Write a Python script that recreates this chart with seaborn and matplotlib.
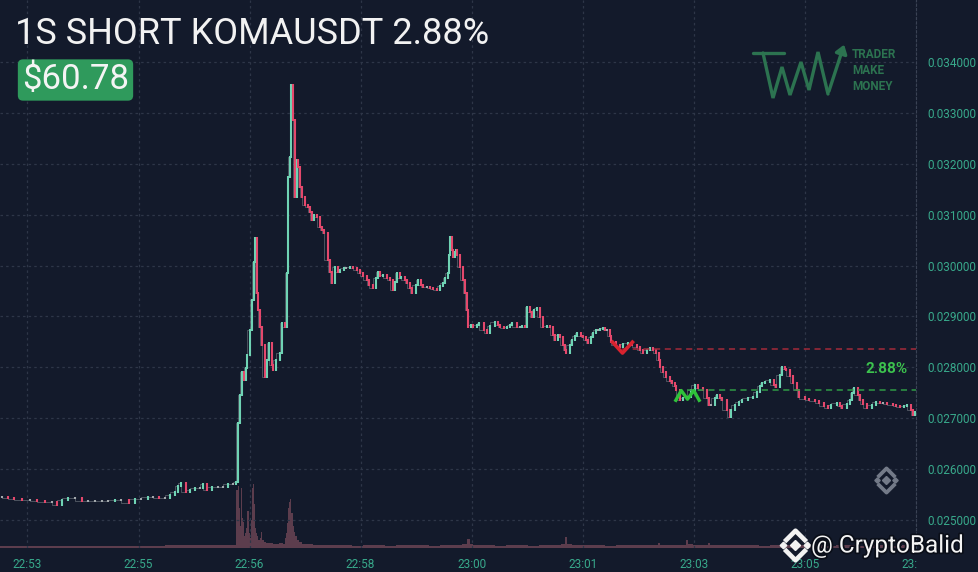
import datetime as dt
import numpy as np
import matplotlib
matplotlib.use("Agg")
import matplotlib.pyplot as plt
from matplotlib.path import Path
from matplotlib.lines import Line2D
from matplotlib.patches import Rectangle, FancyArrowPatch
import matplotlib.patheffects as pe
import seaborn as sns

sns.set_style("dark")
plt.rcParams["font.family"] = ["Roboto", "DejaVu Sans"]

bg = "#131a2b"
gridColor = "#2e3648"
upColor = "#6fd3b4"
downColor = "#e4486c"
flatColor = "#a3a9ad"
axisText = "#38a98b"
volColor = "#6a4454"

# 1s candles, sampled: time index (s) / close price
times = [2, 7, 13, 20, 27, 34, 41, 47, 52, 56,
         62, 68, 75, 80, 86, 93, 98, 105, 110, 117,
         123, 128, 135, 139, 145, 150, 155, 159, 162, 165,
         169, 173, 177, 182, 185, 188, 193, 198, 203, 207,
         212, 215, 216, 218, 220, 222, 224, 225, 227, 229,
         231, 232, 234, 235, 236, 238, 241, 243, 245, 247,
         248, 251, 255, 256, 259, 261, 262, 264, 265, 266,
         268, 270, 271, 273, 275, 277, 280, 282, 284, 286,
         288, 291, 293, 295, 298, 300, 302, 305, 307, 309,
         313, 315, 318, 321, 325, 327, 330, 334, 336, 339,
         342, 344, 346, 348, 352, 355, 357, 359, 361, 364,
         365, 368, 370, 373, 375, 378, 380, 383, 385, 388,
         391, 394, 397, 400, 403, 405, 407, 408, 409, 411,
         412, 414, 415, 416, 418, 421, 423, 425, 426, 428,
         430, 434, 436, 440, 443, 446, 450, 453, 455, 458,
         461, 464, 466, 470, 473, 475, 477, 479, 482, 484,
         486, 488, 491, 494, 497, 500, 503, 505, 507, 509,
         512, 514, 515, 518, 520, 523, 525, 528, 530, 533,
         535, 537, 539, 542, 544, 546, 548, 550, 552, 555,
         556, 560, 564, 567, 571, 575, 579, 582, 585, 588,
         591, 594, 597, 599, 600, 603, 606, 609, 611, 614,
         615, 618, 621, 625, 628, 632, 635, 639, 643, 645,
         647, 650, 652, 655, 657, 661, 664, 665, 668, 672,
         675, 680, 685, 688, 691, 693, 696, 700, 704, 706,
         709, 711, 714, 715, 718, 721, 725, 727, 732, 736,
         741, 745, 749, 753, 756, 761, 764, 766, 770, 773,
         775, 777, 780, 782, 785, 788, 793, 797, 800, 803,
         807, 812, 815, 818, 822, 825, 828, 830, 832]

closes = [0.025452, 0.025433, 0.025413, 0.025393, 0.025393, 0.025374, 0.025354, 0.025354, 0.025295, 0.025393,
          0.025433, 0.025433, 0.025374, 0.025374, 0.025374, 0.025374, 0.025374, 0.025393, 0.025393, 0.025334,
          0.025413, 0.025413, 0.025452, 0.025452, 0.025433, 0.025433, 0.025492, 0.025550, 0.025668, 0.025727,
          0.025550, 0.025590, 0.025629, 0.025629, 0.025708, 0.025590, 0.025649, 0.025649, 0.025649, 0.025708,
          0.025708, 0.025747, 0.026906, 0.027457, 0.027908, 0.027751, 0.027987, 0.028243, 0.028734, 0.029323,
          0.030070, 0.030542, 0.029461, 0.029127, 0.028793, 0.028439, 0.027810, 0.028144, 0.028478, 0.028046,
          0.027948, 0.028144, 0.028282, 0.028871, 0.028793, 0.029854, 0.031740, 0.032133, 0.033548, 0.032860,
          0.031347, 0.032074, 0.031937, 0.031544, 0.031347, 0.031190, 0.031151, 0.031052, 0.030895, 0.030994,
          0.030954, 0.030758, 0.030699, 0.030640, 0.030109, 0.029873, 0.029657, 0.029972, 0.029873, 0.029913,
          0.029952, 0.029952, 0.029972, 0.029952, 0.029913, 0.029854, 0.029795, 0.029716, 0.029618, 0.029559,
          0.029756, 0.029873, 0.029795, 0.029815, 0.029756, 0.029716, 0.029520, 0.029677, 0.029854, 0.029756,
          0.029775, 0.029716, 0.029657, 0.029559, 0.029461, 0.029618, 0.029716, 0.029618, 0.029579, 0.029579,
          0.029559, 0.029539, 0.029520, 0.029598, 0.029657, 0.029756, 0.029854, 0.030208, 0.030561, 0.030306,
          0.030168, 0.030266, 0.030306, 0.030208, 0.029972, 0.029716, 0.029461, 0.029127, 0.028793, 0.028832,
          0.028793, 0.028832, 0.028871, 0.028734, 0.028675, 0.028812, 0.028891, 0.028832, 0.028793, 0.028773,
          0.028793, 0.028832, 0.028871, 0.028793, 0.028793, 0.028812, 0.028793, 0.029186, 0.029087, 0.028989,
          0.029127, 0.029166, 0.028989, 0.028793, 0.028812, 0.028793, 0.028636, 0.028537, 0.028636, 0.028596,
          0.028439, 0.028341, 0.028282, 0.028439, 0.028537, 0.028616, 0.028675, 0.028616, 0.028596, 0.028537,
          0.028478, 0.028596, 0.028675, 0.028734, 0.028734, 0.028753, 0.028773, 0.028734, 0.028734, 0.028616,
          0.028498, 0.028439, 0.028400, 0.028459, 0.028478, 0.028439, 0.028400, 0.028341, 0.028282, 0.028341,
          0.028380, 0.028341, 0.028282, 0.028144, 0.028007, 0.027908, 0.027810, 0.027732, 0.027692, 0.027633,
          0.027555, 0.027358, 0.027398, 0.027417, 0.027555, 0.027653, 0.027594, 0.027555, 0.027398, 0.027260,
          0.027260, 0.027398, 0.027457, 0.027398, 0.027358, 0.027162, 0.027024, 0.027162, 0.027260, 0.027319,
          0.027358, 0.027398, 0.027417, 0.027515, 0.027633, 0.027692, 0.027712, 0.027751, 0.027653, 0.027614,
          0.027850, 0.028007, 0.027967, 0.027948, 0.027830, 0.027692, 0.027555, 0.027417, 0.027378, 0.027358,
          0.027339, 0.027299, 0.027240, 0.027201, 0.027260, 0.027299, 0.027240, 0.027201, 0.027280, 0.027358,
          0.027496, 0.027594, 0.027457, 0.027358, 0.027280, 0.027201, 0.027260, 0.027319, 0.027299, 0.027299,
          0.027280, 0.027260, 0.027240, 0.027221, 0.027240, 0.027260, 0.027162, 0.027064, 0.027122]

# volume (thousands)
volTimes = [0, 10, 20, 30, 40, 50, 60, 70, 80, 90, 100, 110, 120, 130, 140, 150, 160, 170, 180, 190, 200, 208,
            215, 216, 217, 218, 219, 220, 221, 222, 223, 224, 225, 226, 227, 228, 229, 230, 231, 232, 233, 234,
            235, 236, 237, 238, 240, 242, 245, 248, 251, 254, 257, 259, 260, 261, 262, 263, 264, 265, 266, 267,
            268, 270, 272, 275, 280, 285, 290, 300, 310, 320, 330, 340, 350, 360, 370, 380, 390, 400, 410, 420,
            425, 427, 430, 440, 450, 460, 470, 480, 490, 500, 510, 514, 516, 520, 530, 540, 550, 560, 570, 580,
            590, 598, 600, 610, 620, 624, 626, 630, 640, 644, 646, 650, 660, 670, 680, 690, 700, 710, 720, 730,
            740, 750, 760, 770, 780, 790, 800, 810, 820, 833]
volumes = [2, 2, 2, 2, 2, 2, 2, 2, 2, 2, 2, 2, 2, 2, 2, 3, 3, 3, 3, 3, 3, 3,
           58, 62, 40, 22, 60, 30, 26, 12, 15, 20, 37, 15, 10, 28, 60, 64, 44, 20, 15, 12,
           8, 10, 16, 8, 6, 5, 5, 4, 4, 5, 4, 10, 15, 25, 40, 46, 49, 35, 22, 16,
           12, 8, 6, 4, 4, 3, 3, 3, 3, 2, 3, 3, 2, 3, 3, 3, 2, 3, 3, 4,
           9, 4, 3, 3, 2, 3, 3, 2, 3, 3, 4, 11, 4, 3, 3, 3, 2, 3, 3, 3,
           3, 5, 3, 3, 3, 8, 4, 3, 3, 5, 3, 3, 3, 3, 3, 2, 3, 3, 3, 3,
           3, 2, 3, 3, 2, 3, 3, 2, 3, 0]

# trade
entryTime = 566
entryPrice = 0.028360
exitTime = 625
exitPrice = 0.027555
entryMark = 0.028405
exitMark = 0.027460
pnlPct = "2.88%"
title = "1S SHORT KOMAUSDT 2.88%"
pnl = "$60.78"

yTicks = np.round(np.arange(0.025, 0.03401, 0.001), 3)
firstTick = dt.datetime(2024, 5, 1, 22, 53, 20)
tickLabels = [(firstTick + dt.timedelta(seconds=100 * k)).strftime("%H:%M") for k in range(9)]
xTicks = 25 + 100.97 * np.arange(9)

W, H = 979, 572
fig = plt.figure(figsize=(W / 100, H / 100), dpi=100, facecolor=bg)
ax = fig.add_axes([0, 24 / H, 916 / W, 548 / H])
ax.set_facecolor(bg)

# volume
ax2 = ax.twinx()
widths = np.diff(volTimes)
ax2.bar(volTimes[:-1], volumes[:-1], width=widths, align="edge", color=volColor, alpha=0.85, lw=0)
ax2.set_ylim(0, max(volumes) * 8.6)
ax2.set_yticks([])
for s in ax2.spines.values():
    s.set_visible(False)

# candles
t = np.array(times, dtype=float)
c = np.array(closes)
o = np.concatenate([[c[0]], c[:-1]])
cols = np.where(c > o, upColor, np.where(c < o, downColor, flatColor))
sns.lineplot(x=t, y=c, ax=ax, drawstyle="steps-pre", color=flatColor, lw=0.7, alpha=0.4, zorder=3)
lo = np.minimum(o, c) - 0.000012
hi = np.maximum(o, c) + 0.000012
ax.vlines(t, lo, hi, colors=cols, lw=1.5, zorder=4)

# trade lines and markers
xMax = 833
ax.hlines(entryPrice, entryTime, xMax, colors="#a32a3a", linestyles=(0, (4, 3)), lw=1.1, zorder=5)
ax.hlines(exitPrice, exitTime, xMax, colors="#2f9a46", linestyles=(0, (4, 3)), lw=1.1, zorder=5)
vMark = Path([(-1, 0.6), (0, -0.5), (1, 0.6)], [Path.MOVETO, Path.LINETO, Path.LINETO])
mMark = Path([(-1, -0.5), (-0.5, 0.4), (0, -0.3), (0.5, 0.4), (1, -0.5)],
             [Path.MOVETO] + [Path.LINETO] * 4)
ax.plot([entryTime], [entryMark], marker=vMark, ms=16, mfc="none", mec="#d8232f", mew=2.6, zorder=6)
ax.plot([exitTime], [exitMark], marker=mMark, ms=18, mfc="none", mec="#2fc23a", mew=2.4, zorder=6)
ax.annotate(pnlPct, xy=(xMax, exitPrice), xytext=(-6, 15), textcoords="offset points",
            ha="right", va="center", color="#3cc24e", fontsize=11, fontweight="bold", zorder=7)

ax.set_xlim(0, xMax)
ax.set_ylim(0.024450, 0.035218)
ax.set_yticks(yTicks)
ax.set_yticklabels([f"{v:.6f}" for v in yTicks])
ax.yaxis.tick_right()
ax.set_xticks(xTicks)
ax.set_xticklabels(tickLabels)
ax.tick_params(axis="both", colors=axisText, labelsize=8.5, length=0)
ax.tick_params(axis="y", pad=8)
ax.tick_params(axis="x", pad=7)
ax.grid(True, color=gridColor, linestyle=(0, (2, 2.5)), lw=0.9)
ax.set_axisbelow(True)
for name, s in ax.spines.items():
    s.set_visible(name == "right")
ax.spines["right"].set_color("#3a4254")
ax.spines["right"].set_linestyle((0, (2, 2)))
ax2.set_zorder(0)
ax.set_zorder(1)
ax.patch.set_visible(False)


def fx(px):
    return px / W


def fy(py):
    return 1 - py / H


# price scale panel hides the cut time label
fig.add_artist(Rectangle((fx(917), 0), fx(W - 917), fy(549), transform=fig.transFigure,
                         facecolor=bg, edgecolor="none", zorder=5))

# title and pnl
fig.text(fx(15), fy(34), title, color="#f2f2f2", fontsize=26, va="center", ha="left", zorder=8)
fig.text(fx(22), fy(80), pnl, color="#f4f4f4", fontsize=25, va="center", ha="left", zorder=8,
         bbox=dict(boxstyle="round,pad=0.12,rounding_size=0.15", facecolor="#2f9a5c", edgecolor="none"))

# watermark logo
logoColor = "#2c7350"
lx = [763, 773, 782, 790, 801, 809, 818, 828]
ly = [53, 98, 67, 95, 62, 90, 52, 94]
fig.add_artist(Line2D([fx(753), fx(784)], [fy(53), fy(53)], transform=fig.transFigure,
                      color=logoColor, lw=2.4, zorder=6))
fig.add_artist(Line2D([fx(v) for v in lx], [fy(v) for v in ly], transform=fig.transFigure,
                      color=logoColor, lw=2.4, zorder=6, solid_joinstyle="miter"))
fig.add_artist(FancyArrowPatch((fx(828), fy(94)), (fx(845), fy(42)), transform=fig.transFigure,
                               arrowstyle="-|>,head_length=5,head_width=3.5",
                               color=logoColor, lw=2.4, zorder=6))
for i, word in enumerate(["TRADER", "MAKE", "MONEY"]):
    fig.text(fx(852), fy(54 + 16 * i), word, color=logoColor, fontsize=8.5, fontweight="bold",
             va="center", ha="left", zorder=6)

# exchange logo (chevrons + diamonds)
upChev = Path([(-1, -0.2), (0, 0.8), (1, -0.2)], [Path.MOVETO, Path.LINETO, Path.LINETO])
downChev = Path([(-1, 0.2), (0, -0.8), (1, 0.2)], [Path.MOVETO, Path.LINETO, Path.LINETO])


def exchangeLogo(px, py, size, color, zorder, effects=None):
    s = size
    kw = dict(transform=fig.transFigure, zorder=zorder)
    if effects:
        kw["path_effects"] = effects
    fig.add_artist(Line2D([fx(px)], [fy(py - s * 0.3)], marker=upChev, ms=s * 0.75, mfc="none",
                          mec=color, mew=s * 0.16, **kw))
    fig.add_artist(Line2D([fx(px)], [fy(py + s * 0.3)], marker=downChev, ms=s * 0.75, mfc="none",
                          mec=color, mew=s * 0.16, **kw))
    fig.add_artist(Line2D([fx(px)], [fy(py)], marker="D", ms=s * 0.22, color=color, lw=0, **kw))
    fig.add_artist(Line2D([fx(px - s * 0.55), fx(px + s * 0.55)], [fy(py), fy(py)], marker="D",
                          ms=s * 0.16, color=color, lw=0, **kw))


exchangeLogo(886, 480, 17, "#737a88", 6)
shadow = [pe.withStroke(linewidth=2.5, foreground="#0a0e18")]
exchangeLogo(795, 545, 21, "#f2f2f2", 9)
fig.text(fx(811), fy(546), "@ CryptoBalid", color="#f4f4f4", fontsize=17.5, va="center", ha="left",
         zorder=9, path_effects=shadow)

fig.savefig("out.png", dpi=100, facecolor=bg)
